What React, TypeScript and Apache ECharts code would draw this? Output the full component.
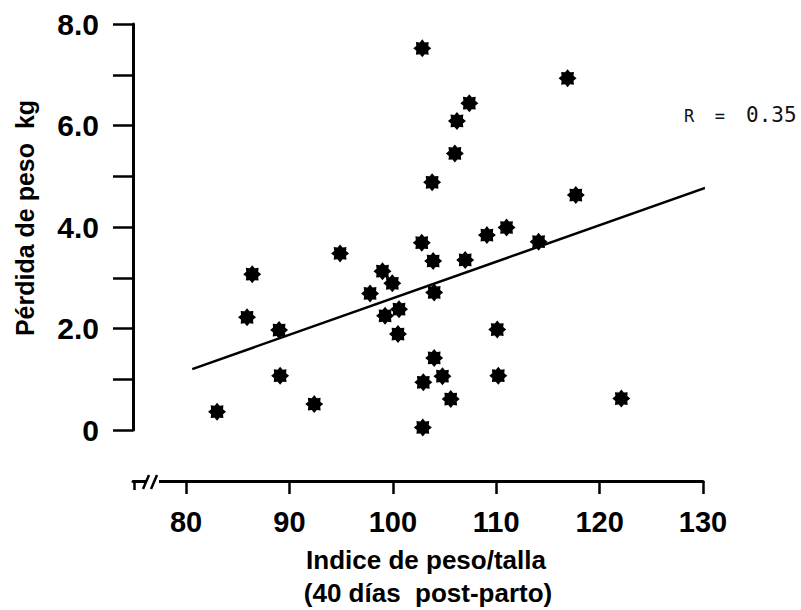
import React, { useEffect, useRef } from "react";
import * as echarts from "echarts";

// Data
const indiceX: number[] = [
  83.0, 85.9, 86.4, 89.0, 89.1, 92.4, 94.9, 97.8, 99.0, 99.25, 99.95, 100.5,
  100.6, 102.8, 102.85, 102.9, 102.95, 103.8, 103.9, 104.0, 104.0, 104.8,
  105.6, 106.0, 106.2, 107.0, 107.4, 109.1, 110.1, 110.2, 111.0, 114.1, 116.9,
  117.7, 122.1,
];
const perdidaY: number[] = [
  0.36, 2.22, 3.07, 1.97, 1.07, 0.51, 3.48, 2.69, 3.13, 2.25, 2.89, 1.89,
  2.38, 3.69, 7.52, 0.05, 0.94, 4.88, 3.33, 2.71, 1.42, 1.06, 0.61, 5.45,
  6.09, 3.35, 6.44, 3.84, 1.98, 1.07, 3.99, 3.71, 6.93, 4.63, 0.62,
];
const regressionX: number[] = [80.6, 130.2];
const regressionY: number[] = [1.2, 4.77];
const xTickValues: number[] = [80, 90, 100, 110, 120, 130];
const yLabelValues: number[] = [0, 2, 4, 6, 8];
const rText = "R  =";
const rValue = "0.35";

function starPath(): string {
  const parts: string[] = [];
  const n = 16;
  for (let i = 0; i < n; i++) {
    const r = i % 2 === 0 ? 10 : 7.2;
    const a = (i * Math.PI) / 8 - Math.PI / 2;
    const x = (r * Math.cos(a)).toFixed(2);
    const y = (r * Math.sin(a)).toFixed(2);
    parts.push((i === 0 ? "M" : "L") + x + " " + y);
  }
  return "path://" + parts.join(" ") + " Z";
}

export default function App() {
  const ref = useRef<HTMLDivElement>(null);
  useEffect(() => {
    document.body.style.margin = "0";
    const chart = echarts.init(ref.current!, undefined, { renderer: "svg" });
    const font = "'Liberation Sans', Arial, sans-serif";
    const points = indiceX.map((x, i) => [x, perdidaY[i]]);
    const reg = regressionX.map((x, i) => [x, regressionY[i]]);
    chart.setOption({
      animation: false,
      backgroundColor: "#ffffff",
      grid: { left: 133, top: 24, width: 570, height: 406 },
      xAxis: {
        type: "value",
        min: 74.87,
        max: 130,
        offset: 51,
        splitLine: { show: false },
        axisLine: { show: true, onZero: false, lineStyle: { color: "#000", width: 3 } },
        axisTick: {
          show: true,
          customValues: xTickValues,
          length: 13,
          lineStyle: { color: "#000", width: 2.5 },
        },
        axisLabel: {
          customValues: xTickValues,
          margin: 26,
          color: "#000",
          fontSize: 29,
          fontWeight: "bold",
          fontFamily: font,
        },
      },
      yAxis: {
        type: "value",
        min: 0,
        max: 8,
        interval: 1,
        splitLine: { show: false },
        axisLine: { show: true, onZero: false, lineStyle: { color: "#000", width: 3 } },
        axisTick: { show: true, length: 20, lineStyle: { color: "#000", width: 2.5 } },
        axisLabel: {
          customValues: yLabelValues,
          margin: 34,
          color: "#000",
          fontSize: 30,
          fontWeight: "bold",
          fontFamily: font,
          formatter: (v: number) => (v === 0 ? "0" : v.toFixed(1)),
        },
      },
      series: [
        {
          type: "line",
          data: reg,
          symbol: "none",
          lineStyle: { color: "#000", width: 2.5 },
          z: 2,
        },
        {
          type: "scatter",
          data: points,
          symbol: starPath(),
          symbolSize: 18,
          itemStyle: { color: "#000", opacity: 1 },
          z: 3,
        },
      ],
      graphic: [
        // axis break mark
        { type: "rect", shape: { x: 146, y: 477, width: 13, height: 8 }, style: { fill: "#fff" }, z: 100 },
        { type: "line", shape: { x1: 134.5, y1: 480, x2: 134.5, y2: 490 }, style: { stroke: "#000", lineWidth: 2.5 }, z: 101 },
        { type: "line", shape: { x1: 143, y1: 489, x2: 149, y2: 475 }, style: { stroke: "#000", lineWidth: 2.5 }, z: 101 },
        { type: "line", shape: { x1: 151, y1: 489, x2: 157, y2: 475 }, style: { stroke: "#000", lineWidth: 2.5 }, z: 101 },
        // y axis title
        {
          type: "text",
          x: 25,
          y: 218,
          rotation: Math.PI / 2,
          style: {
            text: "Pérdida de peso  kg",
            fill: "#000",
            font: "bold 25px " + font,
            align: "center",
            verticalAlign: "middle",
          },
        },
        // x axis title
        {
          type: "text",
          x: 426,
          y: 560,
          style: {
            text: "Indice de peso/talla",
            fill: "#000",
            font: "bold 26px " + font,
            align: "center",
            verticalAlign: "middle",
          },
        },
        {
          type: "text",
          x: 428,
          y: 593,
          style: {
            text: "(40 días  post-parto)",
            fill: "#000",
            font: "bold 26px " + font,
            align: "center",
            verticalAlign: "middle",
          },
        },
        // correlation label
        {
          type: "text",
          x: 684,
          y: 124,
          style: {
            text: rText,
            fill: "#111",
            font: "17px 'DejaVu Sans Mono', monospace",
            align: "left",
            verticalAlign: "bottom",
          },
        },
        {
          type: "text",
          x: 746,
          y: 125,
          style: {
            text: rValue,
            fill: "#111",
            font: "21px 'DejaVu Sans Mono', monospace",
            align: "left",
            verticalAlign: "bottom",
          },
        },
      ],
    });
    return () => chart.dispose();
  }, []);
  return <div ref={ref} style={{ width: 801, height: 610 }} />;
}
